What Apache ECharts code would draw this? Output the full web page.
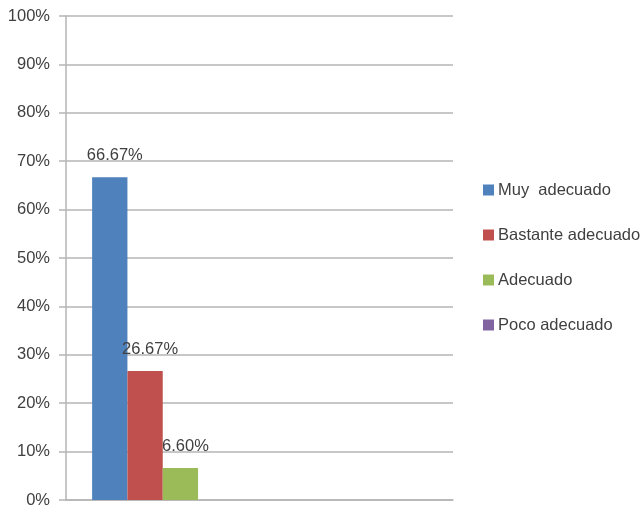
<!DOCTYPE html>
<html>
<head>
<meta charset="utf-8">
<script src="https://cdn.jsdelivr.net/npm/echarts@6/dist/echarts.min.js"></script>
<style>
  html, body { margin: 0; padding: 0; background: #fff; }
  #chart { width: 642px; height: 512px; }
</style>
</head>
<body>
<div id="chart"></div>
<script>
// Two category slots; only the first one carries values
const categories = ['', ''];
const seriesNames = ['Muy  adecuado', 'Bastante adecuado', 'Adecuado', 'Poco adecuado'];
const muyAdecuado = [66.67, null];
const bastanteAdecuado = [26.67, null];
const adecuado = [6.60, null];
const pocoAdecuado = [0, null];
const seriesColors = ['#4F81BD', '#C0504D', '#9BBB59', '#8064A2'];
const yTicks = [0, 10, 20, 30, 40, 50, 60, 70, 80, 90, 100];

const FONT = '"Liberation Sans", Arial, sans-serif';
const FS = 16.5;
const values = [muyAdecuado, bastanteAdecuado, adecuado, pocoAdecuado];

const chart = echarts.init(document.getElementById('chart'), null, { renderer: 'canvas' });

const series = seriesNames.map((name, i) => ({
  name: name,
  type: 'bar',
  data: values[i],
  barGap: '0%',
  barCategoryGap: '27%',
  itemStyle: { color: seriesColors[i] },
  label: {
    show: i < 3,
    position: 'top',
    distance: 13,
    offset: [5, 0],
    color: '#404040',
    fontFamily: FONT,
    fontSize: FS,
    formatter: p => (p.value == null ? '' : p.value.toFixed(2) + '%')
  }
}));

chart.setOption({
  animation: false,
  backgroundColor: '#ffffff',
  textStyle: { fontFamily: FONT },
  grid: { left: 66, right: 189, top: 16, bottom: 12, containLabel: false },
  legend: {
    orient: 'vertical',
    left: 478,
    top: 175,
    itemWidth: 11,
    itemHeight: 11,
    itemGap: 25,
    icon: 'rect',
    data: seriesNames,
    textStyle: { color: '#404040', fontSize: FS, lineHeight: 20, fontFamily: FONT, padding: [0, 0, 0, -1] }
  },
  xAxis: {
    type: 'category',
    data: categories,
    axisLine: { show: true, lineStyle: { color: '#b5b5b5', width: 1.5 } },
    axisTick: { show: false },
    axisLabel: { show: false },
    splitLine: { show: false }
  },
  yAxis: {
    type: 'value',
    min: yTicks[0],
    max: yTicks[yTicks.length - 1],
    interval: 10,
    axisLine: { show: true, lineStyle: { color: '#b5b5b5', width: 1.5 } },
    axisTick: { show: true, length: 7, lineStyle: { color: '#b5b5b5', width: 1.5 } },
    axisLabel: {
      margin: 16,
      color: '#404040',
      fontSize: FS,
      fontFamily: FONT,
      formatter: v => v + '%'
    },
    splitLine: { show: true, lineStyle: { color: '#b5b5b5', width: 1.5 } }
  },
  series: series
});
</script>
</body>
</html>
